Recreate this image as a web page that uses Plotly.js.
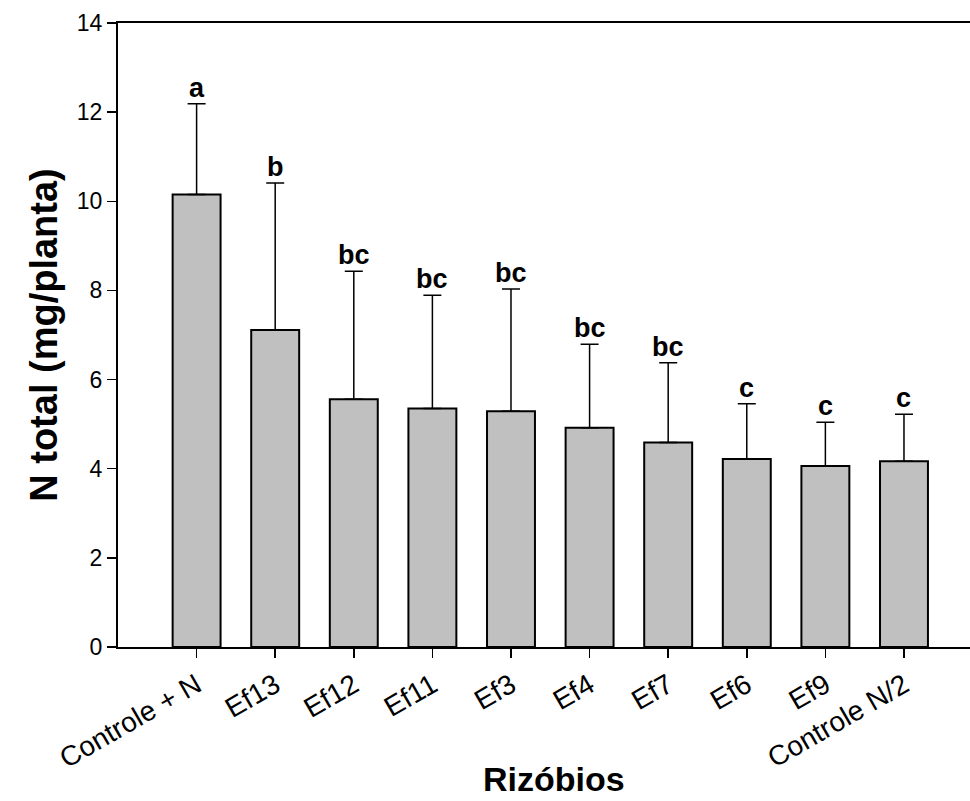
<!DOCTYPE html>
<html>
<head>
<meta charset="utf-8">
<script src="https://cdn.plot.ly/plotly-3.0.1.min.js"></script>
<style>
  html, body { margin: 0; padding: 0; background: #fff; }
  #chart { width: 970px; height: 801px; }
</style>
</head>
<body>
<div id="chart"></div>
<script>
// ---- data ----
const categories = ['Controle + N', 'Ef13', 'Ef12', 'Ef11', 'Ef3', 'Ef4', 'Ef7', 'Ef6', 'Ef9', 'Controle N/2'];
const nTotal = [10.15, 7.11, 5.56, 5.35, 5.29, 4.92, 4.59, 4.22, 4.06, 4.17];
const sdUpper = [2.04, 3.30, 2.87, 2.54, 2.74, 1.87, 1.79, 1.24, 0.98, 1.05];
const letters = ['a', 'b', 'bc', 'bc', 'bc', 'bc', 'bc', 'c', 'c', 'c'];
const yTicks = [0, 2, 4, 6, 8, 10, 12, 14];

const FONT = 'Liberation Sans, Arial, sans-serif';

const trace = {
  type: 'bar',
  x: categories,
  y: nTotal,
  width: 0.61,
  marker: { color: '#c0c0c0', line: { color: '#000', width: 2 } },
  error_y: {
    type: 'data',
    symmetric: false,
    array: sdUpper,
    arrayminus: sdUpper.map(() => 0),
    color: '#000',
    thickness: 1.5,
    width: 9
  },
  hoverinfo: 'x+y'
};

const annotations = categories.map((c, i) => ({
  x: c,
  y: nTotal[i] + sdUpper[i],
  xref: 'x',
  yref: 'y',
  text: '<b>' + letters[i] + '</b>',
  showarrow: false,
  yanchor: 'bottom',
  yshift: -1,
  font: { family: FONT, size: 27, color: '#000' }
}));

// x-axis title placed as a paper annotation for exact position
annotations.push({
  x: 0.512,
  y: -0.212,
  xref: 'paper',
  yref: 'paper',
  xanchor: 'center',
  yanchor: 'middle',
  borderpad: 0,
  text: '<b>Rizóbios</b>',
  showarrow: false,
  font: { family: FONT, size: 34, color: '#000' }
});

const layout = {
  width: 970,
  height: 801,
  margin: { l: 118, r: 0, t: 23, b: 154 },
  paper_bgcolor: '#fff',
  plot_bgcolor: '#fff',
  showlegend: false,
  font: { family: FONT, color: '#000' },
  xaxis: {
    type: 'category',
    range: [-1, 9.84],
    showline: true,
    linecolor: '#000',
    linewidth: 2,
    mirror: true,
    ticks: 'outside',
    ticklen: 9,
    tickwidth: 1.5,
    tickcolor: '#000',
    tickangle: -30,
    showgrid: false,
    zeroline: false,
    tickfont: { family: FONT, size: 28, color: '#000' }
  },
  yaxis: {
    range: [0, 14],
    tickvals: yTicks,
    ticktext: yTicks.map(String),
    showline: true,
    linecolor: '#000',
    linewidth: 2,
    ticks: 'outside',
    ticklen: 9,
    tickwidth: 1.5,
    tickcolor: '#000',
    showgrid: false,
    zeroline: false,
    tickfont: { family: FONT, size: 23, color: '#000' },
    title: { text: '<b>N total (mg/planta)</b>', font: { family: FONT, size: 38, color: '#000' }, standoff: 8 }
  },
  annotations: annotations
};

Plotly.newPlot('chart', [trace], layout, { displayModeBar: false, staticPlot: true });
</script>
</body>
</html>
